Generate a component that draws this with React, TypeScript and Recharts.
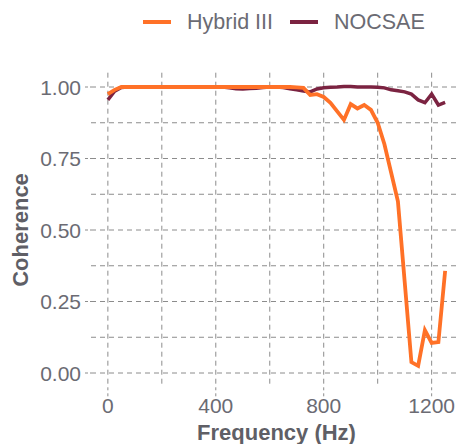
import { LineChart, Line, XAxis, YAxis, CartesianGrid } from "recharts";

// frequency (Hz) of each sample
const freqs = [
  0, 25, 50, 75, 100, 125, 150, 175, 200, 225, 250, 275, 300, 325, 350, 375,
  400, 425, 450, 475, 500, 525, 550, 575, 600, 625, 650, 675, 700, 725, 750,
  775, 800, 825, 850, 875, 900, 925, 950, 975, 1000, 1025, 1050, 1075, 1100,
  1125, 1150, 1175, 1200, 1225, 1250,
];

const hybrid = [
  0.975, 0.99, 1.0, 1.0, 1.0, 1.0, 1.0, 1.0, 1.0, 1.0, 1.0, 1.0, 1.0, 1.0, 1.0,
  1.0, 1.0, 1.0, 1.0, 1.0, 1.0, 1.0, 1.0, 1.0, 1.0, 1.0, 1.0, 1.0, 0.999, 0.997,
  0.972, 0.975, 0.965, 0.945, 0.915, 0.885, 0.94, 0.925, 0.937, 0.92, 0.875,
  0.8, 0.7, 0.6, 0.32, 0.038, 0.025, 0.15, 0.105, 0.108, 0.357,
];

const nocsae = [
  0.955, 0.985, 0.998, 1.0, 1.0, 1.0, 1.0, 1.0, 1.0, 1.0, 1.0, 1.0, 1.0, 1.0,
  1.0, 1.0, 1.0, 1.0, 0.997, 0.994, 0.993, 0.995, 0.996, 0.998, 1.0, 1.0, 0.998,
  0.994, 0.99, 0.986, 0.983, 0.993, 0.997, 0.999, 1.0, 1.002, 1.002, 1.0, 1.0,
  1.0, 0.999, 0.997, 0.99, 0.987, 0.983, 0.975, 0.955, 0.945, 0.975, 0.937,
  0.946,
];

const xTicks = [0, 200, 400, 600, 800, 1000, 1200];
const yTicks = [0, 0.125, 0.25, 0.375, 0.5, 0.625, 0.75, 0.875, 1.0];

const data = freqs.map((f, i) => ({ freq: f, hybrid: hybrid[i], nocsae: nocsae[i] }));

const ORANGE = "#ff7127";
const MAROON = "#7b2341";
const GRID = "#8c8c8c";
const TXT = "#6b6b73";
const FONT = "'Liberation Sans', Arial, sans-serif";

const XTick = ({ x, y, payload }: any) => {
  if (payload.value % 400 !== 0) return null;
  return (
    <g>
      <line x1={x} x2={x} y1={y} y2={y + 10} stroke={GRID} strokeDasharray="3 3" />
      <text x={x} y={y + 26} textAnchor="middle" fill={TXT} fontSize={21} fontFamily={FONT}>
        {payload.value}
      </text>
    </g>
  );
};

const YTick = ({ x, y, payload }: any) => {
  if (payload.value % 0.25 !== 0) return null;
  return (
    <g>
      <line x1={x - 6} x2={x} y1={y} y2={y} stroke={GRID} strokeDasharray="3 2" />
      <text x={x - 10} y={y + 7.5} textAnchor="end" fill={TXT} fontSize={21} fontFamily={FONT}>
        {payload.value.toFixed(2)}
      </text>
    </g>
  );
};

const YLabel = ({ viewBox }: any) => {
  const cy = viewBox.y + viewBox.height / 2;
  return (
    <text
      x={28}
      y={cy}
      transform={`rotate(-90, 28, ${cy})`}
      textAnchor="middle"
      fill="#5f5f66"
      fontSize={22}
      fontWeight="bold"
      fontFamily={FONT}
    >
      Coherence
    </text>
  );
};

const XLabel = ({ viewBox }: any) => (
  <text
    x={viewBox.x + viewBox.width / 2}
    y={440}
    textAnchor="middle"
    fill="#5f5f66"
    fontSize={22}
    fontWeight="bold"
    fontFamily={FONT}
  >
    Frequency (Hz)
  </text>
);

const LegendItem = ({ color, label, left }: { color: string; label: string; left: number }) => (
  <div style={{ position: "absolute", left, top: 8, display: "flex", alignItems: "center", height: 28 }}>
    <span style={{ width: 28, height: 4, background: color, display: "inline-block", marginRight: 16 }} />
    <span style={{ fontFamily: FONT, fontSize: 21.5, color: TXT }}>{label}</span>
  </div>
);

const App = () => {
  return (
    <div style={{ position: "absolute", left: 0, top: 0, width: 460, height: 444, overflow: "hidden", background: "#fff" }}>
      <LegendItem color={ORANGE} label="Hybrid III" left={143} />
      <LegendItem color={MAROON} label="NOCSAE" left={290} />
      <div style={{ position: "absolute", left: 0, top: 0 }}>
        <LineChart width={462} height={444} data={data} margin={{ top: 72.7, right: 0, bottom: 0, left: 0 }}>
          <CartesianGrid stroke={GRID} strokeDasharray="5 4" syncWithTicks />
          <XAxis
            dataKey="freq"
            type="number"
            domain={[-62.5, 1312.5]}
            ticks={xTicks}
            allowDataOverflow
            axisLine={false}
            tickLine={false}
            tickSize={0}
            tickMargin={0}
            height={56.7}
            tick={<XTick />}
            label={<XLabel />}
            interval={0}
          />
          <YAxis
            type="number"
            domain={[-0.05, 1.05]}
            ticks={yTicks}
            allowDataOverflow
            axisLine={false}
            tickLine={false}
            tickSize={0}
            tickMargin={0}
            width={91}
            tick={<YTick />}
            label={<YLabel />}
            interval={0}
          />
          <Line dataKey="nocsae" stroke={MAROON} strokeWidth={3.5} dot={false} isAnimationActive={false} />
          <Line dataKey="hybrid" stroke={ORANGE} strokeWidth={3.8} dot={false} isAnimationActive={false} />
        </LineChart>
      </div>
    </div>
  );
};

export default App;
